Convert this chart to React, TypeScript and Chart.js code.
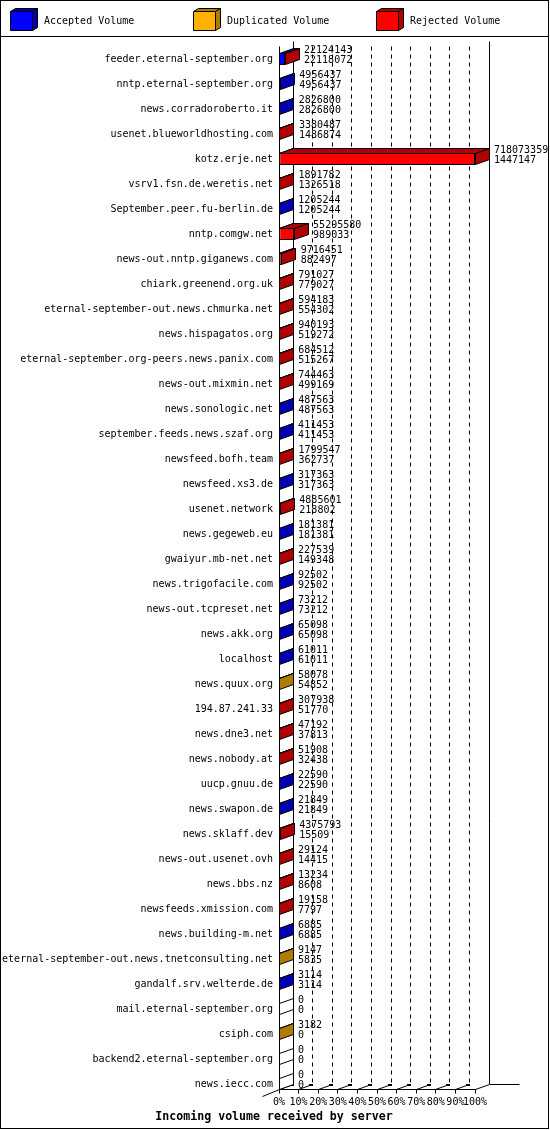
import React, { useEffect, useRef } from 'react';
import { Chart, registerables } from 'chart.js';

Chart.register(...registerables);

const hosts = [
  'feeder.eternal-september.org',
  'nntp.eternal-september.org',
  'news.corradoroberto.it',
  'usenet.blueworldhosting.com',
  'kotz.erje.net',
  'vsrv1.fsn.de.weretis.net',
  'September.peer.fu-berlin.de',
  'nntp.comgw.net',
  'news-out.nntp.giganews.com',
  'chiark.greenend.org.uk',
  'eternal-september-out.news.chmurka.net',
  'news.hispagatos.org',
  'eternal-september.org-peers.news.panix.com',
  'news-out.mixmin.net',
  'news.sonologic.net',
  'september.feeds.news.szaf.org',
  'newsfeed.bofh.team',
  'newsfeed.xs3.de',
  'usenet.network',
  'news.gegeweb.eu',
  'gwaiyur.mb-net.net',
  'news.trigofacile.com',
  'news-out.tcpreset.net',
  'news.akk.org',
  'localhost',
  'news.quux.org',
  '194.87.241.33',
  'news.dne3.net',
  'news.nobody.at',
  'uucp.gnuu.de',
  'news.swapon.de',
  'news.sklaff.dev',
  'news-out.usenet.ovh',
  'news.bbs.nz',
  'newsfeeds.xmission.com',
  'news.building-m.net',
  'eternal-september-out.news.tnetconsulting.net',
  'gandalf.srv.welterde.de',
  'mail.eternal-september.org',
  'csiph.com',
  'backend2.eternal-september.org',
  'news.iecc.com',
];

const acceptedVolume = [
  22118072, 4956437, 2826800, 1486874, 1447147, 1326518, 1205244, 989033, 882497, 779027,
  554302, 519272, 515267, 499169, 487563, 411453, 362737, 317363, 218802, 181381,
  149348, 92502, 73212, 65098, 61011, 54852, 51770, 37813, 32438, 22590,
  21849, 15509, 14415, 8608, 7797, 6885, 5835, 3114, 0, 0,
  0, 0,
];

const duplicatedVolume = [
  0, 0, 0, 0, 0, 0, 0, 0, 0, 0,
  0, 0, 0, 0, 0, 0, 0, 0, 0, 0,
  0, 0, 0, 0, 0, 3226, 0, 0, 0, 0,
  0, 0, 0, 0, 0, 0, 3312, 0, 0, 3182,
  0, 0,
];

const rejectedVolume = [
  6071, 0, 0, 1893613, 716626212, 565264, 0, 54306547, 8833954, 12000,
  39881, 420921, 169245, 245294, 0, 0, 1436810, 0, 4666799, 0,
  78191, 0, 0, 0, 0, 0, 256168, 9379, 19470, 0,
  0, 4360284, 14709, 4626, 11361, 0, 0, 0, 0, 0,
  0, 0,
];

const seriesNames = ['Accepted Volume', 'Duplicated Volume', 'Rejected Volume'];
const frontColors = ['#0000FF', '#FFB000', '#FF0000'];
const sideColors = ['#0000B0', '#B07C00', '#B00000'];
const chartTitle = 'Incoming volume received by server';
const percentTicks = [0, 10, 20, 30, 40, 50, 60, 70, 80, 90, 100];

const FONT = '"DejaVu Sans Mono", monospace';
const DX = 14;
const DY = -5;
const BAR = 12;

const series = [acceptedVolume, duplicatedVolume, rejectedVolume];
const totals = hosts.map((_, i) => acceptedVolume[i] + duplicatedVolume[i] + rejectedVolume[i]);
const maxTotal = Math.max(...totals);

const snap = (v: number) => Math.floor(v) + 0.5;

function poly(ctx: CanvasRenderingContext2D, pts: number[][], fill: string | null) {
  ctx.beginPath();
  pts.forEach((p, j) => {
    const x = snap(p[0]);
    const y = snap(p[1]);
    if (j === 0) ctx.moveTo(x, y);
    else ctx.lineTo(x, y);
  });
  ctx.closePath();
  if (fill) {
    ctx.fillStyle = fill;
    ctx.fill();
  }
  ctx.strokeStyle = '#000';
  ctx.lineWidth = 1;
  ctx.stroke();
}

function line(ctx: CanvasRenderingContext2D, x1: number, y1: number, x2: number, y2: number) {
  ctx.beginPath();
  ctx.moveTo(snap(x1), snap(y1));
  ctx.lineTo(snap(x2), snap(y2));
  ctx.stroke();
}

const threeDPlugin = {
  id: 'threeD',
  beforeDraw(chart: any) {
    const ctx: CanvasRenderingContext2D = chart.ctx;
    ctx.save();
    ctx.fillStyle = '#fff';
    ctx.fillRect(0, 0, chart.width, chart.height);
    ctx.strokeStyle = '#000';
    ctx.lineWidth = 1;
    ctx.strokeRect(0.5, 0.5, chart.width - 2, chart.height - 2);
    line(ctx, 0, 36, chart.width - 2, 36);

    // legend
    const lx = [10, 193, 376];
    const tx = [44, 227, 410];
    for (let k = 0; k < 3; k++) {
      const x = lx[k];
      const y = 11;
      const w = 22;
      const h = 19;
      const d = 5;
      const e = -3;
      poly(ctx, [[x, y], [x + w, y], [x + w + d, y + e], [x + d, y + e]], sideColors[k]);
      poly(ctx, [[x + w, y], [x + w + d, y + e], [x + w + d, y + h + e], [x + w, y + h]], sideColors[k]);
      poly(ctx, [[x, y], [x + w, y], [x + w, y + h], [x, y + h]], frontColors[k]);
      ctx.fillStyle = '#000';
      ctx.font = `10px ${FONT}`;
      ctx.textAlign = 'left';
      ctx.textBaseline = 'middle';
      ctx.fillText(seriesNames[k], tx[k], 21.5);
    }

    // title
    ctx.font = `bold 11.6px ${FONT}`;
    ctx.textAlign = 'center';
    ctx.textBaseline = 'middle';
    ctx.fillStyle = '#000';
    ctx.fillText(chartTitle, 274, 1117);
    ctx.restore();
  },
  beforeDatasetsDraw(chart: any) {
    const ctx: CanvasRenderingContext2D = chart.ctx;
    const xs = chart.scales.x;
    const ys = chart.scales.y;
    const ca = chart.chartArea;
    const top = ca.top;
    const floorY = ys.getPixelForValue(hosts.length - 1) + BAR / 2 - 1;
    const x0 = xs.getPixelForValue(0);
    const x100 = xs.getPixelForValue(100);
    ctx.save();
    ctx.strokeStyle = '#000';
    ctx.lineWidth = 1;
    // back wall
    line(ctx, x0 + DX, top + DY, x0 + DX, floorY + DY);
    line(ctx, x100 + DX, top + DY, x100 + DX, floorY + DY);
    ctx.setLineDash([4, 4]);
    percentTicks.slice(1, -1).forEach((t) => {
      const x = xs.getPixelForValue(t) + DX;
      line(ctx, x, top + DY + 5, x, floorY + DY);
    });
    ctx.setLineDash([]);
    // front axis
    line(ctx, x0, top, x0, floorY);
    // floor
    line(ctx, x0, floorY, x100, floorY);
    line(ctx, x100, floorY, x100 + DX, floorY + DY);
    line(ctx, x100 + DX, floorY + DY, x100 + DX + 30, floorY + DY);
    line(ctx, x0 - 17, floorY + 7, x0, floorY);
    percentTicks.forEach((t) => {
      const x = xs.getPixelForValue(t);
      line(ctx, x, floorY, x, floorY + 4);
      if (t < 100) {
        line(ctx, x, floorY, x + DX, floorY + DY);
        ctx.fillStyle = '#000';
        ctx.fillRect(Math.floor(x + DX - 3), Math.floor(floorY + DY), 4, 2);
      }
    });
    ctx.restore();
  },
  afterDatasetsDraw(chart: any) {
    const ctx: CanvasRenderingContext2D = chart.ctx;
    const xs = chart.scales.x;
    const ys = chart.scales.y;
    ctx.save();
    for (let i = 0; i < hosts.length; i++) {
      const c = ys.getPixelForValue(i);
      const top = c - BAR / 2;
      const bot = c + BAR / 2 - 1;
      let lastK = -1;
      let end = xs.getPixelForValue(0);
      for (let k = 0; k < 3; k++) {
        if (series[k][i] <= 0) continue;
        const el = chart.getDatasetMeta(k).data[i];
        const p = el.getProps(['x', 'base'], true);
        poly(ctx, [[p.base, top], [p.x, top], [p.x + DX, top + DY], [p.base + DX, top + DY]], sideColors[k]);
        lastK = k;
        end = p.x;
      }
      poly(
        ctx,
        [[end, top], [end + DX, top + DY], [end + DX, bot + DY], [end, bot]],
        lastK >= 0 ? sideColors[lastK] : '#FFFFFF'
      );
      ctx.fillStyle = '#000';
      ctx.font = `10px ${FONT}`;
      ctx.textAlign = 'left';
      ctx.textBaseline = 'middle';
      const tx = end + DX + 5;
      ctx.fillText(String(totals[i]), tx, c - 9);
      ctx.fillText(String(acceptedVolume[i]), tx, c + 1.5);
    }
    ctx.restore();
  },
};

export default function App() {
  const ref = useRef<HTMLCanvasElement>(null);
  useEffect(() => {
    if (!ref.current) return;
    const chart = new Chart(ref.current, {
      type: 'bar',
      data: {
        labels: hosts,
        datasets: series.map((vals, k) => ({
          label: seriesNames[k],
          data: vals.map((v) => (v / maxTotal) * 100),
          backgroundColor: frontColors[k],
          borderColor: '#000',
          borderWidth: 1,
          borderSkipped: false,
          barThickness: BAR,
          inflateAmount: 0,
        })),
      },
      options: {
        indexAxis: 'y',
        responsive: false,
        animation: false,
        devicePixelRatio: 1,
        layout: { padding: { top: 46.5, left: 0, right: 75, bottom: 0 } },
        plugins: { legend: { display: false }, tooltip: { enabled: false }, title: { display: false } },
        scales: {
          x: {
            type: 'linear',
            stacked: true,
            min: 0,
            max: 100,
            grid: { display: false, drawTicks: false },
            border: { display: false },
            ticks: {
              stepSize: 10,
              autoSkip: false,
              maxRotation: 0,
              padding: 0,
              color: '#000',
              font: { family: FONT, size: 10 },
              callback: (v: any) => `${v}%`,
            },
            afterFit: (s: any) => {
              s.height = 33.5;
            },
          },
          y: {
            type: 'category',
            stacked: true,
            grid: { display: false, drawTicks: false },
            border: { display: false },
            ticks: {
              autoSkip: false,
              padding: 6,
              color: '#000',
              font: { family: FONT, size: 10 },
            },
            afterFit: (s: any) => {
              s.width = 279;
            },
          },
        },
      },
      plugins: [threeDPlugin],
    } as any);
    return () => chart.destroy();
  }, []);
  return (
    <div style={{ position: 'absolute', left: 0, top: 0, width: 550, height: 1130 }}>
      <canvas ref={ref} width={550} height={1130} />
    </div>
  );
}
